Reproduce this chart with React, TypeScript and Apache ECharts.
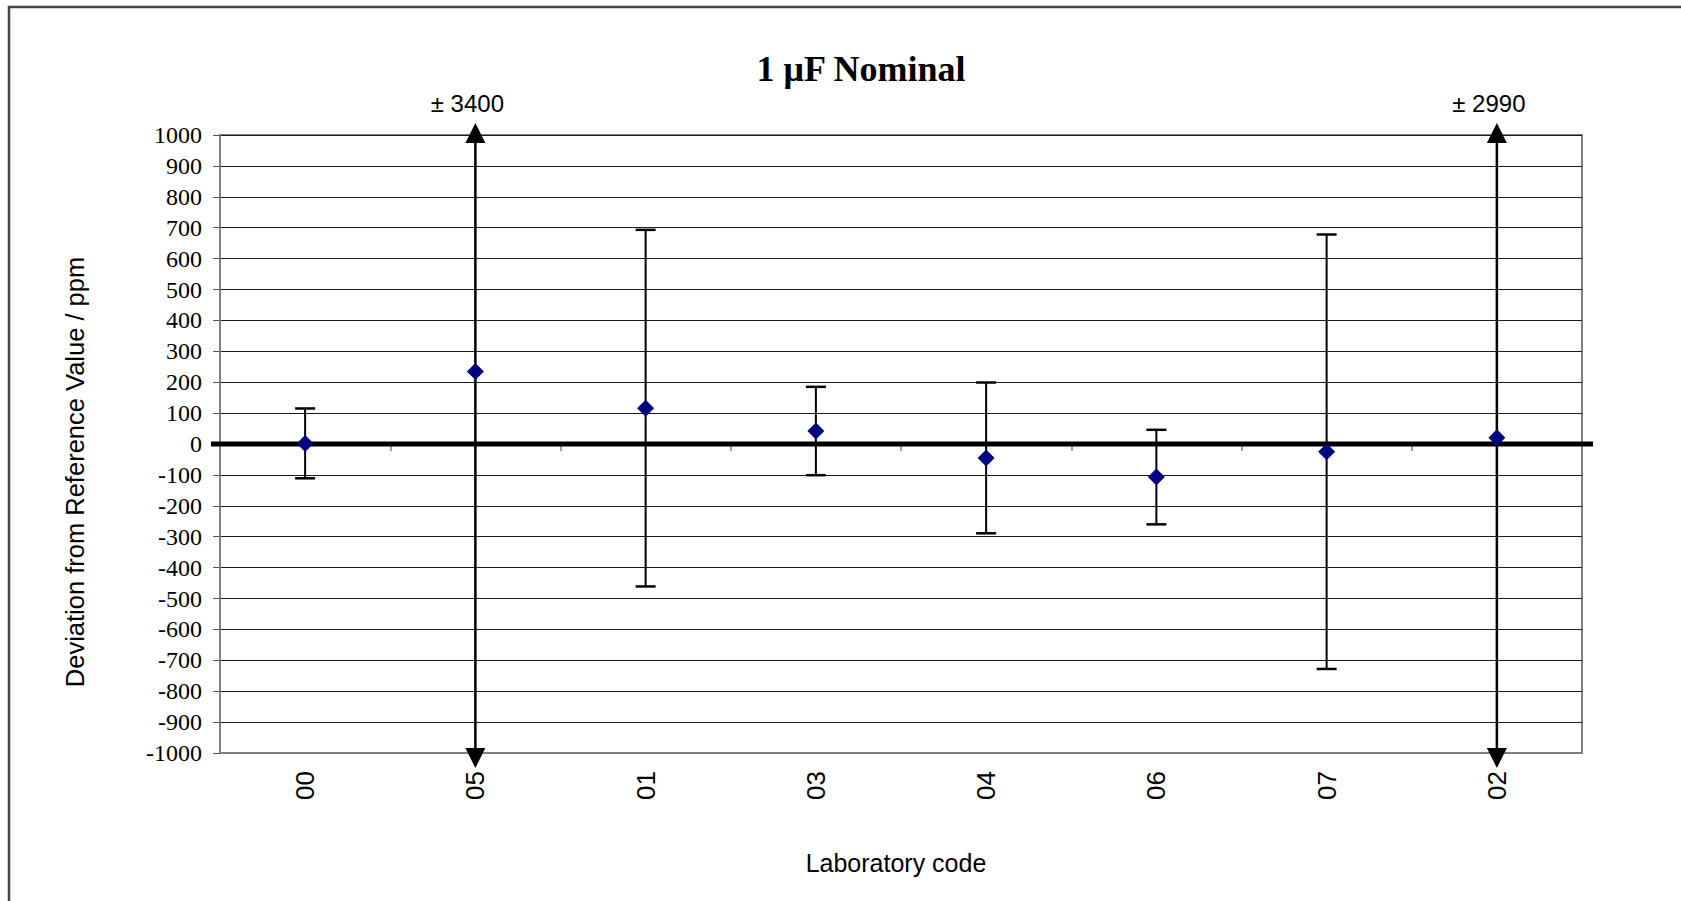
import React, { useEffect, useRef } from "react";
import * as echarts from "echarts";

// ---- data ----
const categories = ["00", "05", "01", "03", "04", "06", "07", "02"];
const deviations = [2, 235, 116, 42, -45, -107, -25, 20];
const uncertainties = [113, 3400, 577, 143, 244, 153, 703, 2990];
const Y_MIN = -1000;
const Y_MAX = 1000;
const Y_STEP = 100;
const titleText = "1 μF Nominal";
const yAxisTitle = "Deviation from Reference Value / ppm";
const xAxisTitle = "Laboratory code";

export default function App() {
  const ref = useRef<HTMLDivElement>(null);

  useEffect(() => {
    if (!ref.current) return;
    const chart = echarts.init(ref.current, null, { renderer: "svg" });

    const errData = categories.map((_, i) => [i, deviations[i], uncertainties[i]]);

    const option: any = {
      animation: false,
      backgroundColor: "#ffffff",
      grid: {
        left: 220,
        right: 99,
        top: 135,
        bottom: 148,
        show: true,
        borderColor: "#808080",
        borderWidth: 2,
        backgroundColor: "transparent",
      },
      graphic: [
        {
          type: "rect",
          shape: { x: 9, y: 7, width: 1720, height: 960 },
          style: { fill: "none", stroke: "#444", lineWidth: 2.5 },
          silent: true,
        },
        {
          type: "text",
          x: 861,
          y: 69,
          style: {
            text: titleText,
            fontFamily: "Liberation Serif",
            fontWeight: "bold",
            fontSize: 36,
            fill: "#000",
            align: "center",
            verticalAlign: "middle",
          },
        },
        {
          type: "text",
          x: 75,
          y: 472,
          rotation: Math.PI / 2,
          style: {
            text: yAxisTitle,
            fontFamily: "Liberation Sans",
            fontSize: 25.5,
            fill: "#000",
            align: "center",
            verticalAlign: "middle",
          },
        },
        {
          type: "text",
          x: 896,
          y: 863,
          style: {
            text: xAxisTitle,
            fontFamily: "Liberation Sans",
            fontSize: 25,
            fill: "#000",
            align: "center",
            verticalAlign: "middle",
          },
        },
      ],
      xAxis: [
        {
          type: "category",
          data: categories,
          position: "bottom",
          boundaryGap: true,
          axisLine: { show: true, onZero: false, lineStyle: { color: "#808080", width: 2 } },
          axisTick: { show: false },
          axisLabel: {
            rotate: 90,
            margin: 18,
            fontFamily: "Liberation Sans",
            fontSize: 26,
            color: "#000",
          },
          splitLine: { show: false },
        },
        {
          type: "category",
          data: categories,
          position: "bottom",
          boundaryGap: true,
          axisLine: { show: true, onZero: true, lineStyle: { color: "#000", width: 0, opacity: 0 } },
          axisTick: { show: true, inside: false, length: 7, lineStyle: { color: "#808080", width: 1.5 } },
          axisLabel: { show: false },
          splitLine: { show: false },
        },
      ],
      yAxis: {
        type: "value",
        min: Y_MIN,
        max: Y_MAX,
        interval: Y_STEP,
        axisLine: { show: true, lineStyle: { color: "#808080", width: 2 } },
        axisTick: { show: true, inside: false, length: 7, lineStyle: { color: "#555", width: 1 } },
        axisLabel: {
          margin: 18,
          fontFamily: "Liberation Serif",
          fontSize: 24,
          color: "#000",
          formatter: (v: number) => String(v),
        },
        splitLine: { show: true, lineStyle: { color: "#1a1a1a", width: 1 } },
      },
      series: [
        {
          type: "custom",
          name: "zero",
          xAxisIndex: 0,
          yAxisIndex: 0,
          clip: false,
          z: 3,
          data: [[0, 0]],
          encode: { x: 0, y: 1 },
          renderItem: (params: any, api: any) => {
            const cs = params.coordSys;
            const p = api.coord([0, 0]);
            return {
              type: "line",
              shape: { x1: cs.x - 9, y1: p[1], x2: cs.x + cs.width + 11, y2: p[1] },
              style: { stroke: "#000", lineWidth: 5 },
            };
          },
        },
        {
          type: "custom",
          name: "uncertainty",
          xAxisIndex: 0,
          yAxisIndex: 0,
          clip: false,
          z: 4,
          data: errData,
          encode: { x: 0, y: 1 },
          renderItem: (params: any, api: any) => {
            const i = api.value(0);
            const v = api.value(1);
            const u = api.value(2);
            const children: any[] = [];
            if (v + u > Y_MAX || v - u < Y_MIN) {
              const t = api.coord([i, Y_MAX]);
              const b = api.coord([i, Y_MIN]);
              const x = t[0];
              children.push({
                type: "line",
                shape: { x1: x, y1: t[1] + 4, x2: x, y2: b[1] - 2 },
                style: { stroke: "#000", lineWidth: 2.5 },
              });
              children.push({
                type: "polygon",
                shape: { points: [[x, t[1] - 12], [x - 10, t[1] + 8], [x + 10, t[1] + 8]] },
                style: { fill: "#000" },
              });
              children.push({
                type: "polygon",
                shape: { points: [[x, b[1] + 15], [x - 10, b[1] - 5], [x + 10, b[1] - 5]] },
                style: { fill: "#000" },
              });
              children.push({
                type: "text",
                x: x - 8,
                y: t[1] - 32,
                style: {
                  text: "± " + u,
                  fontFamily: "Liberation Sans",
                  fontSize: 24,
                  fill: "#000",
                  align: "center",
                  verticalAlign: "middle",
                },
              });
            } else {
              const t = api.coord([i, v + u]);
              const b = api.coord([i, v - u]);
              const x = t[0];
              const hw = 10;
              children.push({
                type: "line",
                shape: { x1: x, y1: t[1], x2: x, y2: b[1] },
                style: { stroke: "#000", lineWidth: 2 },
              });
              children.push({
                type: "line",
                shape: { x1: x - hw, y1: t[1], x2: x + hw, y2: t[1] },
                style: { stroke: "#000", lineWidth: 2.5 },
              });
              children.push({
                type: "line",
                shape: { x1: x - hw, y1: b[1], x2: x + hw, y2: b[1] },
                style: { stroke: "#000", lineWidth: 2.5 },
              });
            }
            return { type: "group", children };
          },
        },
        {
          type: "scatter",
          name: "deviation",
          xAxisIndex: 0,
          yAxisIndex: 0,
          z: 5,
          symbol: "diamond",
          symbolSize: [17, 17],
          itemStyle: { color: "#000080", opacity: 1 },
          data: deviations.map((d, i) => [i, d]),
        },
      ],
    };

    chart.setOption(option);
    return () => chart.dispose();
  }, []);

  return (
    <div
      ref={ref}
      style={{ position: "fixed", left: 0, top: 0, width: 1681, height: 901, background: "#fff" }}
    />
  );
}
